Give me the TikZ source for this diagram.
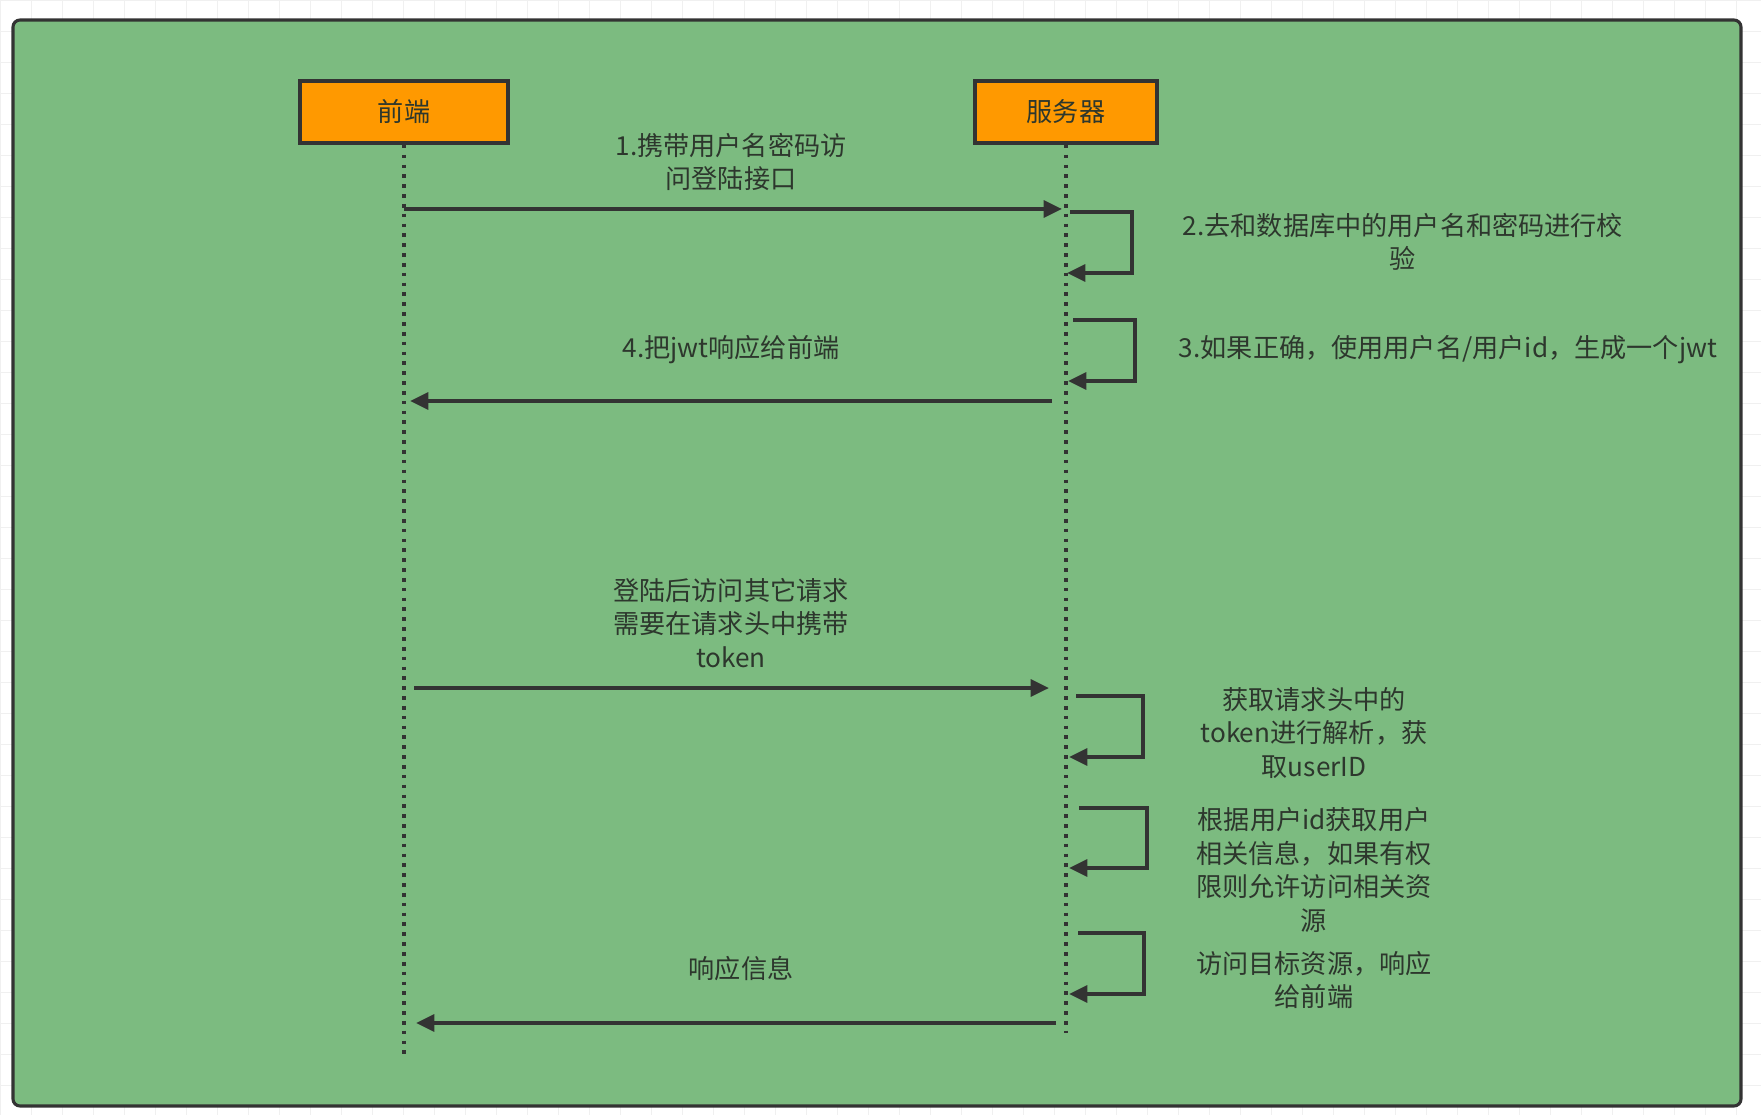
\documentclass[tikz,border=0pt]{standalone}
\usepackage{fontspec}
\newfontfamily\cjk{Noto Sans CJK SC}
\usetikzlibrary{arrows.meta}
\definecolor{panelgreen}{RGB}{124,187,128}
\definecolor{actororange}{RGB}{255,153,0}
\definecolor{inkgray}{RGB}{51,51,51}
\definecolor{labelgray}{RGB}{45,55,45}
\begin{document}
\begin{tikzpicture}[
  x=0.025cm, y=-0.025cm,
  every node/.style={font=\cjk\fontsize{18.6pt}{23.8pt}\selectfont, text=labelgray},
  gridline/.style={draw=gray!12, line width=0.6pt},
  panel/.style={draw=inkgray, line width=2.2pt, fill=panelgreen, rounded corners=5pt},
  actorbox/.style={draw=inkgray, line width=2.6pt, fill=actororange, minimum height=1.55cm, inner sep=0pt},
  lifeline/.style={draw=inkgray, line width=2.8pt, dash pattern=on 2.6pt off 4.4pt},
  msg/.style={draw=inkgray, line width=2.6pt, -{Triangle[length=13pt,width=12pt]}},
  note/.style={align=center}
]
% Background and grid
\fill[white] (0,0) rectangle (1761,1115);
\useasboundingbox (0,0) rectangle (1761,1115);
\foreach \gx in {0,31,...,1761} \draw[gridline] (\gx,0) -- (\gx,1115);
\foreach \gy in {0,31,...,1115} \draw[gridline] (0,\gy) -- (1761,\gy);
\draw[panel] (13,20) rectangle (1741,1106);

% Actors
\node[actorbox, minimum width=5.2cm]  (fe)  at (404,112)  {前端};
\node[actorbox, minimum width=4.55cm] (srv) at (1066,112) {服务器};

% Lifelines
\coordinate (feEnd)  at (404,1056);
\coordinate (srvEnd) at (1066,1033);
\draw[lifeline] (fe.south) -- (feEnd);
\draw[lifeline] (srv.south) -- (srvEnd);

% Login
\coordinate (m1s) at (404,209);
\coordinate (m1e) at (1062,209);
\draw[msg] (m1s) -- (m1e);
\node[note] (l1) at (731,162) {1.携带用户名密码访\\问登陆接口};

\coordinate (s2a) at (1070,212);
\coordinate (s2b) at (1067,273);
\draw[msg] (s2a) -- ++(62,0) |- (s2b);
\node[note] (l2) at (1403,242) {2.去和数据库中的用户名和密码进行校\\验};

\coordinate (s3a) at (1073,320);
\coordinate (s3b) at (1068,381);
\draw[msg] (s3a) -- ++(62,0) |- (s3b);
\node[note] (l3) at (1448,350) {3.如果正确，使用用户名/用户id，生成一个jwt};

\coordinate (m4s) at (1052,401);
\coordinate (m4e) at (410,401);
\draw[msg] (m4s) -- (m4e);
\node[note] (l4) at (731,350) {4.把jwt响应给前端};

% Later requests
\coordinate (m5s) at (414,688);
\coordinate (m5e) at (1049,688);
\draw[msg] (m5s) -- (m5e);
\node[note] (l5) at (731,623) {登陆后访问其它请求\\需要在请求头中携带\\token};

\coordinate (s6a) at (1076,696);
\coordinate (s6b) at (1069,757);
\draw[msg] (s6a) -- ++(67,0) |- (s6b);
\node[note] (l6) at (1314,733) {获取请求头中的\\token进行解析，获\\取userID};

\coordinate (s7a) at (1079,808);
\coordinate (s7b) at (1069,868);
\draw[msg] (s7a) -- ++(68,0) |- (s7b);
\node[note] (l7) at (1314,870) {根据用户id获取用户\\相关信息，如果有权\\限则允许访问相关资\\源};

\coordinate (s8a) at (1078,933);
\coordinate (s8b) at (1069,994);
\draw[msg] (s8a) -- ++(66,0) |- (s8b);
\node[note] (l8) at (1314,980) {访问目标资源，响应\\给前端};

\coordinate (m9s) at (1056,1023);
\coordinate (m9e) at (416,1023);
\draw[msg] (m9s) -- (m9e);
\node[note] (l9) at (741,969) {响应信息};
\end{tikzpicture}
\end{document}
